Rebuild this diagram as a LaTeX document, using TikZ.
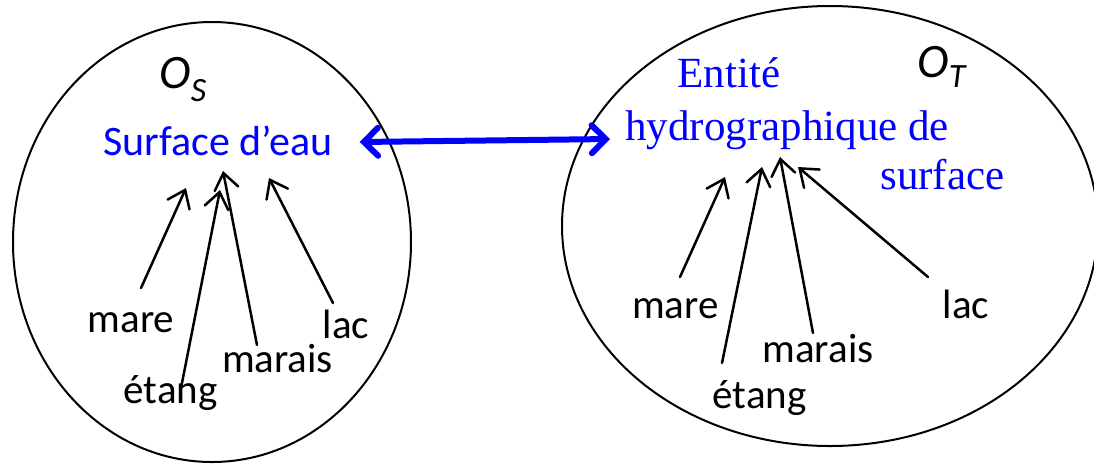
\documentclass[tikz,border=0pt]{standalone}
\usepackage{fontspec}
\setmainfont{Carlito}
\newfontfamily\timesfont{Liberation Serif}
\usetikzlibrary{arrows.meta}
\tikzset{
  lbl/.style={inner sep=0pt, anchor=base, font=\fontsize{20.5}{24}\selectfont},
  onto/.style={inner sep=0pt, anchor=base west, font=\itshape},
  bluetxt/.style={text=blue, inner sep=0pt, anchor=base west},
  isa/.style={line width=1.25pt, line cap=round,
    -{Straight Barb[length=8pt,width=12pt,line cap=round]}},
  eqv/.style={draw=blue, line width=3pt, line cap=round,
    {Straight Barb[length=7pt,width=14pt,line cap=round]}-{Straight Barb[length=7pt,width=14pt,line cap=round]}}
}
\begin{document}
\begin{tikzpicture}[x=0.5pt,y=-0.5pt]
  \useasboundingbox (0,0) rectangle (1094,463);
  % the two ontologies
  \draw[line width=1pt] (212,242) ellipse [x radius=199, y radius=220];
  \draw[line width=1pt] (830,226) ellipse [x radius=268, y radius=220];
  \node[onto] (os) at (159,88) {\fontsize{24}{28}\selectfont O\raisebox{-6.5pt}{\fontsize{17}{20}\selectfont S}};
  \node[onto] (ot) at (917,77) {\fontsize{24}{28}\selectfont O\raisebox{-5pt}{\fontsize{17}{20}\selectfont T}};
  % concepts
  \node[bluetxt, font=\fontsize{21}{25}\selectfont] (surfS) at (103,155) {Surface d’eau};
  \node[bluetxt, font=\timesfont\fontsize{21.5}{26}\selectfont] (entT) at (677,87) {Entité};
  \node[bluetxt, font=\timesfont\fontsize{21.5}{26}\selectfont] (hydroT) at (625,140) {hydrographique de};
  \node[bluetxt, font=\timesfont\fontsize{21.5}{26}\selectfont] (surfT) at (880,189) {surface};
  % sub-concepts
  \node[lbl] (mareS) at (131,332) {mare};
  \node[lbl] (etangS) at (170.5,403) {étang};
  \node[lbl] (maraisS) at (277.5,372) {marais};
  \node[lbl] (lacS) at (346,338) {lac};
  \node[lbl] (mareT) at (675.5,318) {mare};
  \node[lbl] (etangT) at (759.5,408) {étang};
  \node[lbl] (maraisT) at (818,362) {marais};
  \node[lbl] (lacT) at (966,318) {lac};
  \coordinate (tSa) at (186,188);
  \coordinate (tSb) at (220,190);
  \coordinate (tSc) at (223,171);
  \coordinate (tSd) at (269,178);
  \coordinate (tTa) at (725,177);
  \coordinate (tTb) at (762,167);
  \coordinate (tTc) at (780,157);
  \coordinate (tTd) at (798,167);
  \foreach \from/\dx/\dy/\to in {mareS/10/-44/tSa, etangS/10.5/-15/tSb,
      maraisS/-20.5/-27/tSc, lacS/-13/-35/tSd,
      mareT/4.5/-41/tTa, etangT/-37.5/-45/tTb,
      maraisT/-5/-29/tTc, lacT/-38/-41/tTd}
    \draw[isa] ([shift={(\dx,\dy)}]\from.base) -- (\to);
  % alignment
  \draw[eqv] ([shift={(27,-13)}]surfS.base east) -- ([shift={(-15,-1)}]hydroT.base west);
\end{tikzpicture}
\end{document}
